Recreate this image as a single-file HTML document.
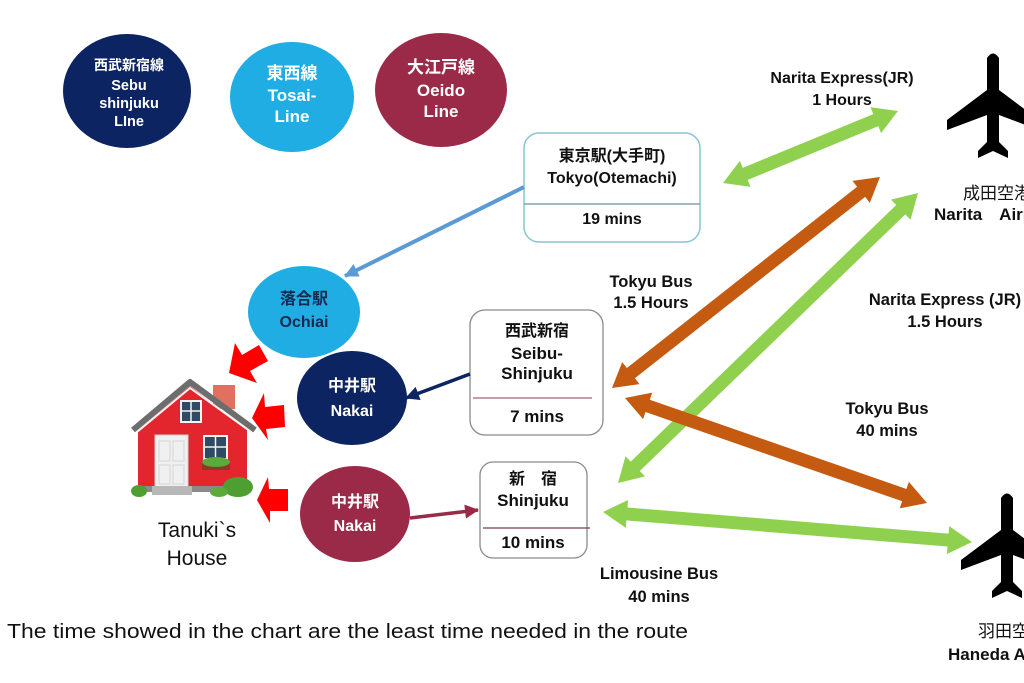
<!DOCTYPE html>
<html>
<head>
<meta charset="utf-8">
<style>
  html,body{margin:0;padding:0;background:#fff;}
  body{width:1024px;height:683px;overflow:hidden;}
  svg{display:block;}
  .b{font-family:"Liberation Sans","Noto Sans CJK JP",sans-serif;font-weight:bold;}
  .r{font-family:"Liberation Sans","Noto Sans CJK JP",sans-serif;font-weight:normal;}
</style>
</head>
<body>
<svg width="1024" height="683" viewBox="0 0 1024 683" xmlns="http://www.w3.org/2000/svg">
  <defs>
    <marker id="mBlue" markerUnits="userSpaceOnUse" markerWidth="16" markerHeight="16" refX="13" refY="7" orient="auto">
      <path d="M0,0 L14,7 L0,14 Z" fill="#5b9bd5"/>
    </marker>
    <marker id="mNavy" markerUnits="userSpaceOnUse" markerWidth="16" markerHeight="16" refX="13" refY="7" orient="auto">
      <path d="M0,0 L14,7 L0,14 Z" fill="#0d2463"/>
    </marker>
    <marker id="mMaroon" markerUnits="userSpaceOnUse" markerWidth="16" markerHeight="16" refX="13" refY="7" orient="auto">
      <path d="M0,0 L14,7 L0,14 Z" fill="#9b2a48"/>
    </marker>
  </defs>

  <!-- Top line circles -->
  <ellipse cx="127" cy="91" rx="64" ry="57" fill="#0d2463"/>
  <text class="b" x="129" y="70" font-size="14" fill="#fff" text-anchor="middle">西武新宿線</text>
  <text class="b" x="129" y="90" font-size="14.5" fill="#fff" text-anchor="middle">Sebu</text>
  <text class="b" x="129" y="108" font-size="14.5" fill="#fff" text-anchor="middle">shinjuku</text>
  <text class="b" x="129" y="126" font-size="14.5" fill="#fff" text-anchor="middle">LIne</text>

  <ellipse cx="292" cy="97" rx="62" ry="55" fill="#1fade4"/>
  <text class="b" x="292" y="79" font-size="17" fill="#fff" text-anchor="middle">東西線</text>
  <text class="b" x="292" y="101" font-size="17" fill="#fff" text-anchor="middle">Tosai-</text>
  <text class="b" x="292" y="122" font-size="17" fill="#fff" text-anchor="middle">Line</text>

  <ellipse cx="441" cy="90" rx="66" ry="57" fill="#9b2a48"/>
  <text class="b" x="441" y="73" font-size="17" fill="#fff" text-anchor="middle">大江戸線</text>
  <text class="b" x="441" y="96" font-size="17" fill="#fff" text-anchor="middle">Oeido</text>
  <text class="b" x="441" y="117" font-size="17" fill="#fff" text-anchor="middle">Line</text>

  <!-- Tokyo box -->
  <rect x="524" y="133" width="176" height="109" rx="15" ry="15" fill="#fff" stroke="#86c5d3" stroke-width="1.5"/>
  <line x1="524" y1="204" x2="700" y2="204" stroke="#6c8fa0" stroke-width="1.2"/>
  <text class="b" x="612" y="161" font-size="16" fill="#111" text-anchor="middle">東京駅(大手町)</text>
  <text class="b" x="612" y="183" font-size="16" fill="#111" text-anchor="middle">Tokyo(Otemachi)</text>
  <text class="b" x="612" y="224" font-size="16" fill="#111" text-anchor="middle">19 mins</text>

  <!-- Seibu-Shinjuku box -->
  <rect x="470" y="310" width="133" height="125" rx="15" ry="15" fill="#fff" stroke="#8a8a8a" stroke-width="1.3"/>
  <line x1="473" y1="398" x2="592" y2="398" stroke="#a0607a" stroke-width="1.2"/>
  <text class="b" x="537" y="336" font-size="16" fill="#111" text-anchor="middle">西武新宿</text>
  <text class="b" x="537" y="359" font-size="17" fill="#111" text-anchor="middle">Seibu-</text>
  <text class="b" x="537" y="379" font-size="17" fill="#111" text-anchor="middle">Shinjuku</text>
  <text class="b" x="537" y="422" font-size="17" fill="#111" text-anchor="middle">7 mins</text>

  <!-- Shinjuku box -->
  <rect x="480" y="462" width="107" height="96" rx="13" ry="13" fill="#fff" stroke="#8a8a8a" stroke-width="1.3"/>
  <line x1="483" y1="528" x2="590" y2="528" stroke="#7a3a52" stroke-width="1.2"/>
  <text class="b" x="533" y="484" font-size="16" fill="#111" text-anchor="middle">新　宿</text>
  <text class="b" x="533" y="506" font-size="17" fill="#111" text-anchor="middle">Shinjuku</text>
  <text class="b" x="533" y="548" font-size="17" fill="#111" text-anchor="middle">10 mins</text>

  <!-- Station circles -->
  <ellipse cx="304" cy="312" rx="56" ry="46" fill="#1fade4"/>
  <text class="b" x="304" y="304" font-size="16" fill="#17294d" text-anchor="middle">落合駅</text>
  <text class="b" x="304" y="327" font-size="16" fill="#17294d" text-anchor="middle">Ochiai</text>

  <ellipse cx="352" cy="398" rx="55" ry="47" fill="#0d2463"/>
  <text class="b" x="352" y="391" font-size="16" fill="#fff" text-anchor="middle">中井駅</text>
  <text class="b" x="352" y="416" font-size="16" fill="#fff" text-anchor="middle">Nakai</text>

  <ellipse cx="355" cy="514" rx="55" ry="48" fill="#9b2a48"/>
  <text class="b" x="355" y="507" font-size="16" fill="#fff" text-anchor="middle">中井駅</text>
  <text class="b" x="355" y="531" font-size="16" fill="#fff" text-anchor="middle">Nakai</text>

  <!-- Thin connectors -->
  <line x1="524" y1="187" x2="345" y2="276" stroke="#5b9bd5" stroke-width="4" marker-end="url(#mBlue)"/>
  <line x1="470" y1="374" x2="406" y2="398" stroke="#0d2463" stroke-width="3.5" marker-end="url(#mNavy)"/>
  <line x1="410" y1="518" x2="478" y2="510" stroke="#9b2a48" stroke-width="3.5" marker-end="url(#mMaroon)"/>

  <!-- Red arrows to house -->
  <polygon points="229,373 257,383 250,371 268,361 259,345 242,355 235,343" fill="#ff0000"/>
  <polygon points="252,418 264,393 265,407 284,405 285,427 266,429 268,440" fill="#ff0000"/>
  <polygon points="257,500 268,477 269,489 288,489 288,511 270,511 270,523" fill="#ff0000"/>

  <!-- House -->
  <g>
    <rect x="213" y="385" width="22" height="24" fill="#e0705f"/>
    <polygon points="138,430 190,386 247,430 247,490 138,490" fill="#e3262d"/>
    <polyline points="133,430 190,382 255,430" fill="none" stroke="#6d6d6d" stroke-width="6" stroke-linejoin="round"/>
    <polyline points="137,432 190,388 251,432" fill="none" stroke="#f2f2f2" stroke-width="2"/>
    <rect x="180" y="400" width="22" height="23" fill="#f4f4f4"/>
    <rect x="182" y="402" width="18" height="19" fill="#2f4a63"/>
    <line x1="191" y1="402" x2="191" y2="421" stroke="#f4f4f4" stroke-width="1.5"/>
    <line x1="182" y1="411" x2="200" y2="411" stroke="#f4f4f4" stroke-width="1.5"/>
    <rect x="155" y="435" width="33" height="52" fill="#f0f0f0" stroke="#cfcfcf" stroke-width="1"/>
    <rect x="159" y="441" width="11" height="20" fill="none" stroke="#d4d4d4" stroke-width="1"/>
    <rect x="173" y="441" width="11" height="20" fill="none" stroke="#d4d4d4" stroke-width="1"/>
    <rect x="159" y="465" width="11" height="19" fill="none" stroke="#d4d4d4" stroke-width="1"/>
    <rect x="173" y="465" width="11" height="19" fill="none" stroke="#d4d4d4" stroke-width="1"/>
    <rect x="203" y="435" width="25" height="25" fill="#f4f4f4"/>
    <rect x="205" y="437" width="21" height="21" fill="#2f4a63"/>
    <line x1="215.5" y1="437" x2="215.5" y2="458" stroke="#f4f4f4" stroke-width="1.5"/>
    <line x1="205" y1="447" x2="226" y2="447" stroke="#f4f4f4" stroke-width="1.5"/>
    <rect x="202" y="462" width="28" height="8" fill="#8b3a2a"/>
    <ellipse cx="216" cy="462" rx="14" ry="5" fill="#5bab3a"/>
    <rect x="138" y="486" width="109" height="6" fill="#8a8a8a"/>
    <rect x="152" y="486" width="40" height="9" fill="#b8b8b8"/>
    <ellipse cx="139" cy="491" rx="8" ry="6" fill="#4f9e32"/>
    <ellipse cx="238" cy="487" rx="15" ry="10" fill="#4f9e32"/>
    <ellipse cx="219" cy="492" rx="9" ry="5" fill="#5bab3a"/>
  </g>
  <text class="r" x="197" y="537" font-size="21" fill="#111" text-anchor="middle">Tanuki`s</text>
  <text class="r" x="197" y="565" font-size="21" fill="#111" text-anchor="middle">House</text>

  <!-- Block double arrows -->
  <g transform="translate(723,183) rotate(-22.36)">
    <polygon points="0,0 24,-14 24,-6.5 165.2,-6.5 165.2,-14 189.2,0 165.2,14 165.2,6.5 24,6.5 24,14" fill="#8fd14f"/>
  </g>
  <g transform="translate(612,388) rotate(-38.22)">
    <polygon points="0,0 24,-14 24,-6.5 317.1,-6.5 317.1,-14 341.1,0 317.1,14 317.1,6.5 24,6.5 24,14" fill="#c55a11"/>
  </g>
  <g transform="translate(618,483) rotate(-44.03)">
    <polygon points="0,0 24,-14 24,-6.5 393.3,-6.5 393.3,-14 417.3,0 393.3,14 393.3,6.5 24,6.5 24,14" fill="#8fd14f"/>
  </g>
  <g transform="translate(625,398) rotate(19.17)">
    <polygon points="0,0 24,-14 24,-6.5 295.7,-6.5 295.7,-14 319.7,0 295.7,14 295.7,6.5 24,6.5 24,14" fill="#c55a11"/>
  </g>
  <g transform="translate(603,512) rotate(4.65)">
    <polygon points="0,0 24,-14 24,-6.5 346.2,-6.5 346.2,-14 370.2,0 346.2,14 346.2,6.5 24,6.5 24,14" fill="#8fd14f"/>
  </g>

  <!-- Planes -->
  <path transform="translate(993,52)" d="M-6,6 Q0,-3 6,6 L6,38 L46,68 L46,78 L6,63 L6,90 L15,99 L15,106 L0,99 L-15,106 L-15,99 L-6,90 L-6,63 L-46,78 L-46,68 L-6,38 Z" fill="#000"/>
  <path transform="translate(1007,492)" d="M-6,6 Q0,-3 6,6 L6,38 L46,68 L46,78 L6,63 L6,90 L15,99 L15,106 L0,99 L-15,106 L-15,99 L-6,90 L-6,63 L-46,78 L-46,68 L-6,38 Z" fill="#000"/>

  <!-- Labels -->
  <text class="b" x="842" y="83" font-size="16" fill="#111" text-anchor="middle">Narita Express(JR)</text>
  <text class="b" x="842" y="105" font-size="16" fill="#111" text-anchor="middle">1 Hours</text>

  <text class="r" x="963" y="199" font-size="17" fill="#111">成田空港</text>
  <text class="b" x="934" y="220" font-size="17" fill="#111">Narita　Airport</text>

  <text class="b" x="651" y="287" font-size="16.5" fill="#111" text-anchor="middle">Tokyu Bus</text>
  <text class="b" x="651" y="308" font-size="16.5" fill="#111" text-anchor="middle">1.5 Hours</text>

  <text class="b" x="945" y="305" font-size="16.5" fill="#111" text-anchor="middle">Narita Express (JR)</text>
  <text class="b" x="945" y="327" font-size="16.5" fill="#111" text-anchor="middle">1.5 Hours</text>

  <text class="b" x="887" y="414" font-size="16.5" fill="#111" text-anchor="middle">Tokyu Bus</text>
  <text class="b" x="887" y="436" font-size="16.5" fill="#111" text-anchor="middle">40 mins</text>

  <text class="b" x="659" y="579" font-size="16.5" fill="#111" text-anchor="middle">Limousine Bus</text>
  <text class="b" x="659" y="602" font-size="16.5" fill="#111" text-anchor="middle">40 mins</text>

  <text class="r" x="978" y="637" font-size="17" fill="#111">羽田空港</text>
  <text class="b" x="948" y="660" font-size="17" fill="#111">Haneda Airport</text>

  <text class="r" x="7" y="638" font-size="20" fill="#111" textLength="681" lengthAdjust="spacingAndGlyphs">The time showed in the chart are the least time needed in the route</text>
</svg>
</body>
</html>
